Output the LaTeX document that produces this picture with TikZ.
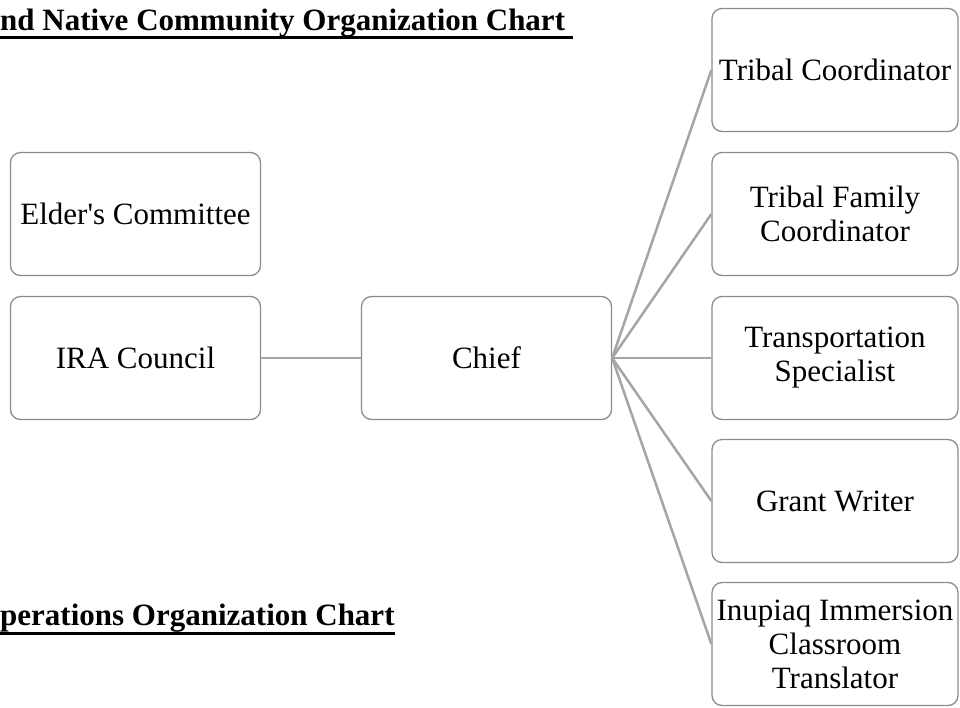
\documentclass[tikz,border=0pt]{standalone}
\usepackage{fontspec}
\setmainfont{Liberation Serif}
\usetikzlibrary{positioning}
\definecolor{boxgray}{RGB}{140,140,140}
\definecolor{linkgray}{RGB}{165,165,165}
\tikzset{
  orgbox/.style={draw=boxgray, line width=1.3pt, rounded corners=10pt,
    minimum width=250pt, minimum height=123pt, inner sep=0pt,
    align=center, font=\fontsize{31}{34}\selectfont},
  link/.style={draw=linkgray, line width=2.5pt},
  charttitle/.style={font=\fontsize{31}{34}\selectfont\bfseries,
    inner sep=0pt, anchor=base west},
  titlerule/.style={line width=3pt}
}
\begin{document}
\begin{tikzpicture}[x=1pt,y=-1pt]
    \useasboundingbox (0,0) rectangle (960,707);
    \def \rx {835}   % centre of the staff column
    % titles
    \node[charttitle] (toptitle) at (0,30) {nd Native Community Organization Chart};
    \draw[titlerule] ([yshift=-7.5pt]toptitle.base west) -- ([yshift=-7.5pt,xshift=8pt]toptitle.base east);
    \node[charttitle] (optitle) at (0,625) {perations Organization Chart};
    \draw[titlerule] ([yshift=-8pt]optitle.base west) -- ([yshift=-8pt]optitle.base east);
    % council side
    \node[orgbox] (elders) at (135.5,214) {Elder\textquotesingle s Committee};
    \node[orgbox] (ira) at (135.5,358) {IRA Council};
    \node[orgbox] (chief) at (486.5,358) {Chief};
    \draw[link] (ira.east) -- (chief.west);
    % staff reporting to the chief
    \foreach \name/\y/\txt in {tribal/70/{Tribal Coordinator},
        family/214/{Tribal Family\\Coordinator},
        transport/358/{Transportation\\Specialist},
        grant/501/{Grant Writer},
        inupiaq/644/{Inupiaq Immersion\\Classroom\\Translator}}
    {
      \node[orgbox, minimum width=246pt] (\name) at (\rx,\y) {\txt};
      \draw[link] (chief.east) -- (\name.west);
    }
\end{tikzpicture}
\end{document}
